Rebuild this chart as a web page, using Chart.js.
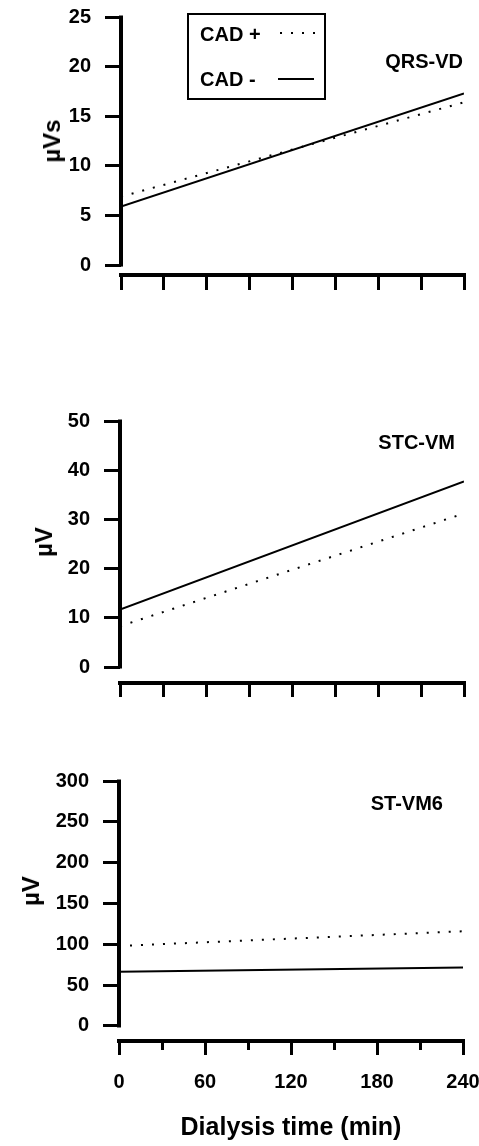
<!DOCTYPE html>
<html>
<head>
<meta charset="utf-8">
<script src="https://cdn.jsdelivr.net/npm/chart.js@4.4.1/dist/chart.umd.min.js"></script>
<style>
html, body { margin: 0; padding: 0; background: #fff; width: 479px; height: 1146px; overflow: hidden; }
body { position: relative; font-family: "Liberation Sans", Arial, sans-serif; font-weight: bold; color: #000; }
.panel { position: absolute; left: 0; }
.txt { position: absolute; white-space: nowrap; line-height: 1; font-size: 20px; }
.ytitle { position: absolute; white-space: nowrap; line-height: 1; font-size: 24px; transform: translate(-50%, -50%) rotate(-90deg); }
.name { transform: translate(-100%, -50%); }
#legend { position: absolute; left: 187px; top: 13px; width: 139px; height: 87px; border: 2px solid #000; box-sizing: border-box; }
.dots { position: absolute; height: 2px; background: repeating-linear-gradient(to right, #000 0 2px, transparent 2px 11px); }
.solid { position: absolute; height: 2px; background: #000; }
</style>
</head>
<body>
<canvas class="panel" id="c1" width="500" height="300" style="top:0"></canvas>
<canvas class="panel" id="c2" width="500" height="320" style="top:400px"></canvas>
<canvas class="panel" id="c3" width="500" height="406" style="top:740px"></canvas>

<div id="legend"></div>
<div class="txt" style="left:200px;top:24px">CAD +</div>
<div class="dots" style="left:280px;top:32px;width:37px"></div>
<div class="txt" style="left:200px;top:69px">CAD -</div>
<div class="solid" style="left:278px;top:78px;width:36px"></div>

<div class="txt name" style="left:463px;top:61px">QRS-VD</div>
<div class="txt name" style="left:455px;top:442px">STC-VM</div>
<div class="txt name" style="left:443px;top:803px">ST-VM6</div>

<div class="ytitle" style="left:52px;top:141px">µVs</div>
<div class="ytitle" style="left:44px;top:542px">µV</div>
<div class="ytitle" style="left:31px;top:891px">µV</div>

<script>
'use strict';

// ── Data ─────────────────────────────────────────────────────────────────────
const times = [0, 240];

const qrsCadPlus  = [6.9, 16.4];
const qrsCadMinus = [5.9, 17.3];

const stcCadPlus  = [8.3, 31.2];
const stcCadMinus = [11.7, 37.7];

const stCadPlus   = [98, 116];
const stCadMinus  = [66.5, 71.5];

const qrsTicks  = [0, 5, 10, 15, 20, 25];
const stcTicks  = [0, 10, 20, 30, 40, 50];
const stTicks   = [0, 50, 100, 150, 200, 250, 300];
const timeTicks = [0, 30, 60, 90, 120, 150, 180, 210, 240];
const timeLabels = [0, 60, 120, 180, 240];
const minorTimeTicks = [30, 90, 150, 210];

const FONT = 'Liberation Sans';

const pts = ys => times.map((t, i) => ({ x: t, y: ys[i] }));

// ── y axis line (stops at 0) + short minor ticks ─────────────────────────────
const axisLines = {
  id: 'axisLines',
  afterDraw(chart, args, opts) {
    const { ctx, chartArea } = chart;
    const x = chart.scales.x, y = chart.scales.y;
    const top = y.ticks[y.ticks.length - 1].value;
    ctx.save();
    ctx.strokeStyle = '#000';
    ctx.lineWidth = 4;
    ctx.beginPath();
    ctx.moveTo(chartArea.left, y.getPixelForValue(top) - 1.5);
    ctx.lineTo(chartArea.left, y.getPixelForValue(0) + 1.5);
    ctx.stroke();
    ctx.lineWidth = 3;
    (opts.minor || []).forEach(v => {
      const px = Math.round(x.getPixelForValue(v)) + 0.5;
      ctx.beginPath();
      ctx.moveTo(px, x.top);
      ctx.lineTo(px, x.top + opts.minorLen);
      ctx.stroke();
    });
    ctx.restore();
  }
};

function panel(id, cfg) {
  const tickFont = { family: FONT, size: 20, weight: 'bold' };
  return new Chart(document.getElementById(id), {
    type: 'line',
    data: {
      datasets: [
        { label: 'CAD +', data: pts(cfg.plus), borderColor: '#000', borderWidth: 2, borderDash: [2, 9], pointRadius: 0, fill: false },
        { label: 'CAD -', data: pts(cfg.minus), borderColor: '#000', borderWidth: 2, pointRadius: 0, fill: false }
      ]
    },
    options: {
      responsive: false,
      animation: false,
      layout: { padding: { top: cfg.top, right: cfg.right, left: 0, bottom: 0 } },
      plugins: {
        legend: { display: false },
        tooltip: { enabled: false },
        axisLines: { minor: cfg.minor || [], minorLen: 9 }
      },
      scales: {
        x: {
          type: 'linear', min: 0, max: 240,
          afterBuildTicks: s => { s.ticks = timeTicks.map(v => ({ value: v })); },
          afterFit: s => { s.height = cfg.xh; s.paddingLeft = 0; s.paddingRight = 0; },
          border: { display: true, width: 4, color: '#000' },
          grid: {
            drawOnChartArea: false, tickLength: cfg.xtl, lineWidth: 3, color: '#000',
            tickColor: c => (cfg.minor && cfg.minor.includes(c.tick && c.tick.value)) ? 'rgba(0,0,0,0)' : '#000'
          },
          ticks: {
            display: !!cfg.xlabels, padding: 15, color: '#000', font: tickFont,
            maxRotation: 0, autoSkip: false,
            callback: v => timeLabels.includes(v) ? String(v) : ''
          },
          title: {
            display: !!cfg.xtitle, text: cfg.xtitle || '', color: '#000',
            font: { family: FONT, size: 25, weight: 'bold' }, padding: { top: 0, bottom: 3 }
          }
        },
        y: {
          min: cfg.ymin, max: cfg.ymax,
          afterBuildTicks: s => { s.ticks = cfg.yticks.map(v => ({ value: v })); },
          afterFit: s => { s.width = cfg.left; s.paddingTop = 0; s.paddingBottom = 0; },
          border: { display: false },
          grid: { drawOnChartArea: false, tickLength: 16, lineWidth: 3, color: '#000' },
          ticks: { padding: 14, color: '#000', font: tickFont }
        }
      }
    },
    plugins: [axisLines]
  });
}

panel('c1', { plus: qrsCadPlus, minus: qrsCadMinus, yticks: qrsTicks, ymin: -1, ymax: 25,
  top: 17, right: 36, left: 121, xh: 25, xtl: 15 });

panel('c2', { plus: stcCadPlus, minus: stcCadMinus, yticks: stcTicks, ymin: -3.25, ymax: 50,
  top: 21, right: 36, left: 120, xh: 37, xtl: 14 });

panel('c3', { plus: stCadPlus, minus: stCadMinus, yticks: stTicks, ymin: -18.4, ymax: 300,
  top: 41, right: 37, left: 119, xh: 105, xtl: 14, xlabels: true, minor: minorTimeTicks,
  xtitle: 'Dialysis time (min)' });
</script>
</body>
</html>
